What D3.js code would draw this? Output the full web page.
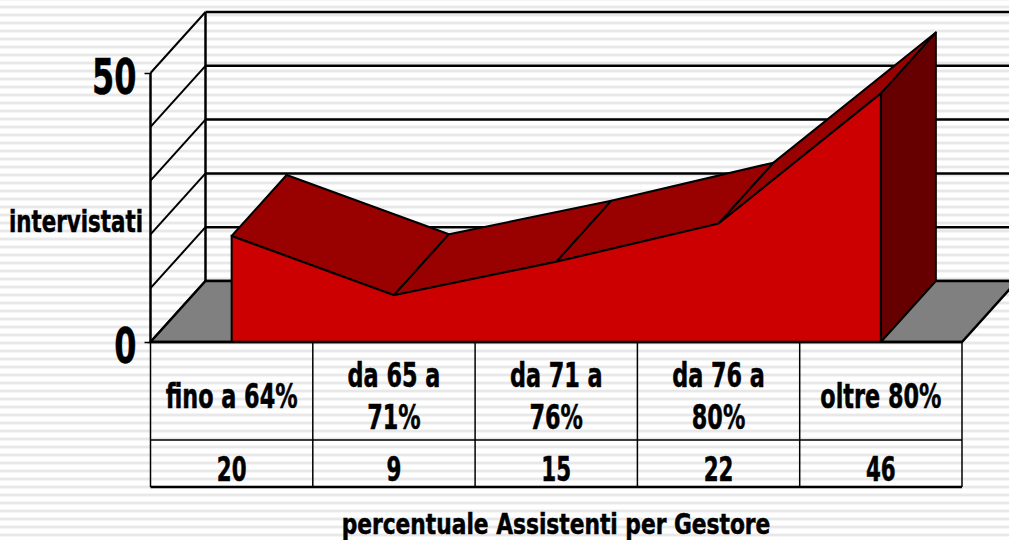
<!DOCTYPE html>
<html>
<head>
<meta charset="utf-8">
<script src="https://cdn.jsdelivr.net/npm/d3@7"></script>
<style>
  html, body { margin: 0; padding: 0; background: #fff; overflow: hidden; }
  text { font-family: "DejaVu Sans", sans-serif; font-weight: bold; font-stretch: condensed; fill: #000; stroke: #000; stroke-width: 0.5px; }
</style>
</head>
<body>
<svg id="chart" width="1009" height="540"></svg>
<script>
const categories = [["fino a 64%"], ["da 65 a", "71%"], ["da 71 a", "76%"], ["da 76 a", "80%"], ["oltre 80%"]];
const tableValues = ["20", "9", "15", "22", "46"];
// plotted heights (table shows them rounded)
const values = [19.7, 8.7, 14.9, 22, 46.2];
const gridTicks = [0, 10, 20, 30, 40, 50];
const labelTicks = [0, 50];

const svg = d3.select("#chart");
const width = 1009, height = 540;

// page background: thin grey stripes every 8px
const stripes = svg.append("defs").append("pattern")
  .attr("id", "stripes")
  .attr("width", 8)
  .attr("height", 8)
  .attr("patternUnits", "userSpaceOnUse");
stripes.append("rect").attr("width", 8).attr("height", 8).attr("fill", "#fff");
stripes.append("rect").attr("y", 5).attr("width", 8).attr("height", 1).attr("fill", "#f5f5f5");
stripes.append("rect").attr("y", 6).attr("width", 8).attr("height", 2).attr("fill", "#e8e8e8");
stripes.append("rect").attr("y", 0).attr("width", 8).attr("height", 1).attr("fill", "#f5f5f5");
svg.append("rect").attr("width", width).attr("height", height).attr("fill", "url(#stripes)");

const x = d3.scaleBand().domain(d3.range(categories.length)).range([150.5, 962]);
const y = d3.scaleLinear().domain([0, 50]).range([342, 73]);
const cx = i => x(i) + x.bandwidth() / 2;

// 3d offset of the back wall
const dx = 55, dy = -61;
const poly = pts => pts.map(p => p.join(",")).join(" ");

// the reference font is much narrower than anything installed, so squeeze it
function squeezed(str, px, py, size, k, anchor) {
  return svg.append("text")
    .attr("transform", `translate(${px},${py}) scale(${k},1)`)
    .attr("text-anchor", anchor || "middle")
    .attr("font-size", size)
    .text(str);
}

// back wall gridlines
svg.append("g").selectAll("line")
  .data(gridTicks)
  .join("line")
  .attr("x1", x.range()[0] + dx)
  .attr("x2", x.range()[1] + dx)
  .attr("y1", d => y(d) + dy)
  .attr("y2", d => y(d) + dy)
  .attr("stroke", "#000")
  .attr("stroke-width", 2.5);

// left wall diagonals
svg.append("g").selectAll("line")
  .data(gridTicks)
  .join("line")
  .attr("x1", x.range()[0])
  .attr("x2", x.range()[0] + dx)
  .attr("y1", d => y(d))
  .attr("y2", d => y(d) + dy)
  .attr("stroke", "#000")
  .attr("stroke-width", 2);

// wall verticals
[0, dx].forEach(off => {
  svg.append("line")
    .attr("x1", x.range()[0] + off)
    .attr("x2", x.range()[0] + off)
    .attr("y1", y(0) + (off ? dy : 0))
    .attr("y2", y(50) + (off ? dy : 0))
    .attr("stroke", "#000")
    .attr("stroke-width", 2.5);
});

// floor
svg.append("polygon")
  .attr("points", poly([
    [x.range()[0], y(0)], [x.range()[1], y(0)],
    [x.range()[1] + dx, y(0) + dy], [x.range()[0] + dx, y(0) + dy]
  ]))
  .attr("fill", "#808080")
  .attr("stroke", "#000")
  .attr("stroke-width", 2.5);

const last = values.length - 1;

// side face on the right end
svg.append("polygon")
  .attr("points", poly([
    [cx(last), y(0)], [cx(last), y(values[last])],
    [cx(last) + dx, y(values[last]) + dy], [cx(last) + dx, y(0) + dy]
  ]))
  .attr("fill", "#660000")
  .attr("stroke", "#000")
  .attr("stroke-width", 2)
  .attr("stroke-linejoin", "round");

// top faces
svg.append("g").selectAll("polygon")
  .data(d3.pairs(d3.range(values.length)))
  .join("polygon")
  .attr("points", ([a, b]) => poly([
    [cx(a), y(values[a])], [cx(a) + dx, y(values[a]) + dy],
    [cx(b) + dx, y(values[b]) + dy], [cx(b), y(values[b])]
  ]))
  .attr("fill", "#990000")
  .attr("stroke", "#000")
  .attr("stroke-width", 2)
  .attr("stroke-linejoin", "round");

// front face
const area = d3.area()
  .x((d, i) => cx(i))
  .y0(y(0))
  .y1(d => y(d));
svg.append("path")
  .attr("d", area(values))
  .attr("fill", "#cc0000")
  .attr("stroke", "#000")
  .attr("stroke-width", 2);

// table under the plot
const rows = [342, 440, 487];
svg.append("g").selectAll("line")
  .data(rows)
  .join("line")
  .attr("x1", x.range()[0])
  .attr("x2", x.range()[1])
  .attr("y1", d => d)
  .attr("y2", d => d)
  .attr("stroke", "#000")
  .attr("stroke-width", (d, i) => i === 1 ? 1.5 : 2.5);

svg.append("g").selectAll("line")
  .data(d3.range(categories.length + 1))
  .join("line")
  .attr("x1", i => i < categories.length ? x(i) : x.range()[1])
  .attr("x2", i => i < categories.length ? x(i) : x.range()[1])
  .attr("y1", rows[0])
  .attr("y2", rows[2])
  .attr("stroke", "#000")
  .attr("stroke-width", 1.5);

categories.forEach((lines, i) => {
  const startY = lines.length === 1 ? 408 : 387;
  lines.forEach((t, j) => squeezed(t, cx(i), startY + j * 42, 34, 0.73));
});

tableValues.forEach((v, i) => squeezed(v, cx(i), 481, 34, 0.7));

// y axis ticks and labels
const tickK = 0.71;
const axis = svg.append("g")
  .attr("transform", `translate(${x.range()[0]},0)`)
  .call(d3.axisLeft(y).tickValues(labelTicks).tickSize(6).tickFormat(d3.format("d")));
axis.select(".domain").remove();
axis.selectAll(".tick line").attr("stroke", "#000").attr("stroke-width", 1.5);
axis.selectAll("text")
  .attr("font-family", null)
  .attr("font-size", 50)
  .attr("x", -14 / tickK)
  .attr("dy", "0.41em")
  .attr("transform", `scale(${tickK},1)`);

squeezed("intervistati", 143, 232, 31, 0.767, "end");
squeezed("percentuale Assistenti per Gestore", 556, 534, 29, 0.834);
</script>
</body>
</html>
